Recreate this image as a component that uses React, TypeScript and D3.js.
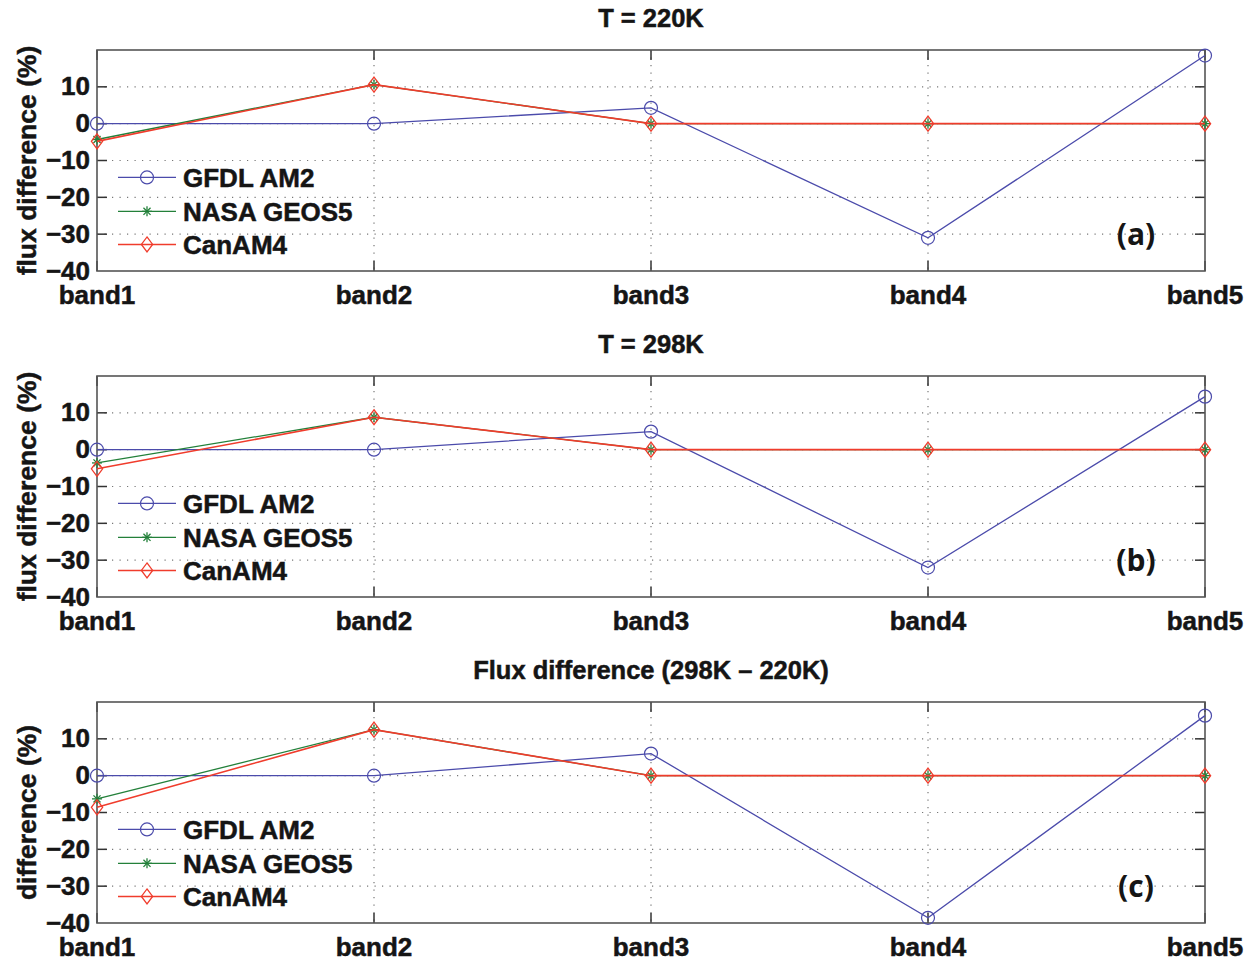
import React from "react";
import * as d3 from "d3";

const bands = ["band1", "band2", "band3", "band4", "band5"];
const yTicks = [-40, -30, -20, -10, 0, 10];

const seriesNames = ["GFDL AM2", "NASA GEOS5", "CanAM4"];
const seriesColors = ["#4b4bab", "#23803a", "#f03c2c"];

// panel (a) T = 220K
const gfdlA = [0, 0, 4.3, -31, 18.5];
const nasaA = [-4.3, 10.6, 0, 0, 0];
const canA = [-4.8, 10.6, 0, 0, 0];
// panel (b) T = 298K
const gfdlB = [0, 0, 4.9, -32, 14.4];
const nasaB = [-3.6, 8.8, 0, 0, 0];
const canB = [-5.2, 8.8, 0, 0, 0];
// panel (c) difference 298K - 220K
const gfdlC = [0, 0, 6, -38.6, 16.3];
const nasaC = [-6.3, 12.5, 0, 0, 0];
const canC = [-8.6, 12.5, 0, 0, 0];

const panelTitles = ["T = 220K", "T = 298K", "Flux difference (298K \u2013 220K)"];
const panelTags = ["(a)", "(b)", "(c)"];
const yLabels = ["flux difference (%)", "flux difference (%)", "difference (%)"];
const panelData = [
  [gfdlA, nasaA, canA],
  [gfdlB, nasaB, canB],
  [gfdlC, nasaC, canC],
];

const W = 1257;
const H = 962;
const left = 97;
const right = 1205;
const panelTops = [50, 376, 702];
const panelH = 221;
const font = "'Liberation Sans', Arial, Helvetica, sans-serif";
const ink = "#151515";
const boldText = { fontFamily: font, fontWeight: "bold" as const, fill: ink, stroke: ink, strokeWidth: 0.5 };

const fmt = (v: number) => (v < 0 ? "\u2212" + Math.abs(v) : String(v));

function Marker({ kind, x, y, color }: { kind: number; x: number; y: number; color: string }) {
  if (kind === 0) return <circle cx={x} cy={y} r={6.5} fill="none" stroke={color} strokeWidth={1.2} />;
  if (kind === 1) {
    const r = 5;
    const lines = [0, 45, 90, 135].map((a) => {
      const t = (a * Math.PI) / 180;
      return (
        <line key={a} x1={x - r * Math.cos(t)} y1={y - r * Math.sin(t)} x2={x + r * Math.cos(t)} y2={y + r * Math.sin(t)} stroke={color} strokeWidth={1.3} />
      );
    });
    return <g>{lines}</g>;
  }
  const s = 7.5;
  return (
    <path d={`M${x},${y - s}L${x + s * 0.75},${y}L${x},${y + s}L${x - s * 0.75},${y}Z`} fill="none" stroke={color} strokeWidth={1.3} />
  );
}

function Panel({ idx }: { idx: number }) {
  const top = panelTops[idx];
  const bottom = top + panelH;
  const x = d3.scalePoint<string>().domain(bands).range([left, right]);
  const y = d3.scaleLinear().domain([-40, 20]).range([bottom, top]);
  const line = d3
    .line<number>()
    .x((_, i) => x(bands[i]) as number)
    .y((v) => y(v));
  const data = panelData[idx];
  const legendX0 = 118;
  const legendRows = [y(-14.6), y(-23.8), y(-32.8)];

  return (
    <g>
      <text x={651} y={top - 23} textAnchor="middle" fontSize={25.5} {...boldText}>
        {panelTitles[idx]}
      </text>
      {/* dotted grid */}
      {yTicks.slice(1).map((t) => (
        <line key={"gy" + t} x1={left} x2={right} y1={y(t)} y2={y(t)} stroke="#777" strokeWidth={1.2} strokeDasharray="1.2,6.3" />
      ))}
      {bands.slice(1, 4).map((b) => (
        <line key={"gx" + b} x1={x(b)} x2={x(b)} y1={top} y2={bottom} stroke="#777" strokeWidth={1.2} strokeDasharray="1.2,6.3" />
      ))}
      {/* tick marks */}
      {yTicks.slice(1).map((t) => (
        <g key={"ty" + t}>
          <line x1={left} x2={left + 10} y1={y(t)} y2={y(t)} stroke="#333" strokeWidth={1.5} />
          <line x1={right - 10} x2={right} y1={y(t)} y2={y(t)} stroke="#333" strokeWidth={1.5} />
        </g>
      ))}
      {bands.map((b) => (
        <g key={"tx" + b}>
          <line x1={x(b)} x2={x(b)} y1={top} y2={top + 10} stroke="#333" strokeWidth={1.5} />
          <line x1={x(b)} x2={x(b)} y1={bottom - 10} y2={bottom} stroke="#333" strokeWidth={1.5} />
        </g>
      ))}
      <rect x={left} y={top} width={right - left} height={panelH} fill="none" stroke="#555" strokeWidth={1.6} />
      {/* tick labels */}
      {yTicks.map((t) => (
        <text key={"ly" + t} x={left - 7} y={y(t) + 8.5} textAnchor="end" fontSize={26} {...boldText}>
          {fmt(t)}
        </text>
      ))}
      {bands.map((b) => (
        <text key={"lx" + b} x={x(b)} y={bottom + 33} textAnchor="middle" fontSize={26} {...boldText}>
          {b}
        </text>
      ))}
      <text transform={`translate(36,${(top + bottom) / 2}) rotate(-90)`} textAnchor="middle" fontSize={26.5} {...boldText}>
        {yLabels[idx]}
      </text>
      {/* series */}
      {data.map((vals, s) => (
        <g key={"s" + s}>
          <path d={line(vals) ?? ""} fill="none" stroke={seriesColors[s]} strokeWidth={s === 2 ? 1.6 : 1.3} />
          {vals.map((v, i) => (
            <Marker key={i} kind={s} x={x(bands[i]) as number} y={y(v)} color={seriesColors[s]} />
          ))}
        </g>
      ))}
      {/* legend */}
      {seriesNames.map((n, s) => (
        <g key={"lg" + s}>
          <line x1={legendX0} x2={legendX0 + 58} y1={legendRows[s]} y2={legendRows[s]} stroke={seriesColors[s]} strokeWidth={1.3} />
          <Marker kind={s} x={legendX0 + 29} y={legendRows[s]} color={seriesColors[s]} />
          <text x={183} y={legendRows[s] + 9.5} fontSize={26} {...boldText}>
            {n}
          </text>
        </g>
      ))}
      <text x={1136} y={y(-30) + 11} textAnchor="middle" fontFamily="'Open Sans', sans-serif" fontWeight="bold" fontSize={30} fill={ink}>
        {panelTags[idx]}
      </text>
    </g>
  );
}

export default function App() {
  return (
    <svg width={W} height={H} style={{ position: "absolute", left: 0, top: 0, background: "#fff" }}>
      <rect width={W} height={H} fill="#fff" />
      {[0, 1, 2].map((i) => (
        <Panel key={i} idx={i} />
      ))}
    </svg>
  );
}
